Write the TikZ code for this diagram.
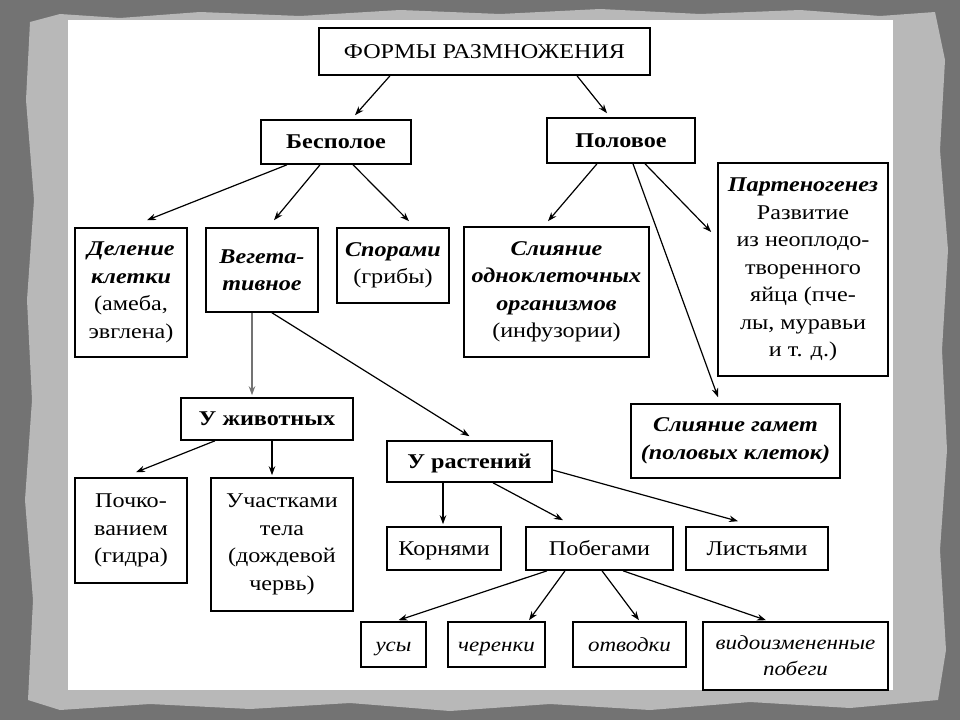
\documentclass[tikz,border=0pt]{standalone}
\usepackage{fontspec}
\setmainfont{Liberation Serif}[FakeStretch=1.15]
\usetikzlibrary{arrows.meta}
\newcommand\fsn{\fontsize{21}{27.5}\selectfont}
\newcommand\fss{\fontsize{20}{26}\selectfont}
\newcommand\bi[1]{\textbf{\textit{#1}}}
\tikzset{
  box/.style={draw, line width=1.6pt, fill=white, inner sep=0pt, align=center, font=\fsn},
  sbox/.style={box, font=\fss},
  one/.style={text height=16pt, text depth=3pt},
  arr/.style={line width=1.2pt, -{Stealth[length=9pt,width=6.5pt]}},
  garr/.style={arr, draw=black!55},
}
\begin{document}
\begin{tikzpicture}[x=1pt,y=-1pt]
\useasboundingbox (0,0) rectangle (960,720);
% background
\fill[black!55] (0,0) rectangle (960,720);
\fill[black!28] (30,22) -- (60,14) -- (120,18) -- (200,12) -- (300,16) -- (400,10) -- (500,14) -- (600,9) -- (700,14) -- (800,10) -- (880,16) -- (935,12) -- (945,60) -- (940,150) -- (948,250) -- (942,350) -- (947,450) -- (940,550) -- (946,650) -- (938,700) -- (850,708) -- (750,702) -- (650,710) -- (550,704) -- (450,711) -- (350,703) -- (250,709) -- (150,704) -- (60,710) -- (28,700) -- (33,600) -- (25,500) -- (32,400) -- (27,300) -- (34,200) -- (26,100) -- cycle;
\fill[white] (68,20) rectangle (893,690);

% nodes
\node[box, one, minimum width=331, minimum height=47] (title) at (484.5,51.5) {ФОРМЫ РАЗМНОЖЕНИЯ};
\node[box, one, minimum width=150, minimum height=44] (bes) at (336,142) {\textbf{Бесполое}};
\node[box, one, minimum width=148, minimum height=45] (pol) at (621,140.5) {\textbf{Половое}};
\node[box, minimum width=112, minimum height=129] (del) at (131,292.5) {\bi{Деление}\\\bi{клетки}\\(амеба,\\эвглена)};
\node[box, minimum width=112, minimum height=84] (veg) at (262,270) {\bi{Вегета-}\\\bi{тивное}};
\node[box, minimum width=112, minimum height=75] (spor) at (393,265.5) {\bi{Спорами}\\(грибы)};
\node[box, minimum width=185, minimum height=130] (sl) at (556.5,292) {\bi{Слияние}\\\bi{одноклеточных}\\\bi{организмов}\\(инфузории)};
\node[box, minimum width=170, minimum height=213] (part) at (803,269.5) {\bi{Партеногенез}\\Развитие\\из неоплодо-\\творенного\\яйца (пче-\\лы, муравьи\\и т. д.)};
\node[box, minimum width=209, minimum height=74] (gam) at (735.5,441) {\bi{Слияние гамет}\\\bi{(половых клеток)}};
\node[box, one, minimum width=172, minimum height=42] (zhiv) at (267,419) {\textbf{У животных}};
\node[box, one, minimum width=165, minimum height=41] (rast) at (469.5,461.5) {\textbf{У растений}};
\node[box, minimum width=112, minimum height=105] (poch) at (131,530.5) {Почко-\\ванием\\(гидра)};
\node[box, minimum width=142, minimum height=133] (uch) at (282,544.5) {Участками\\тела\\(дождевой\\червь)};
\node[box, one, minimum width=114, minimum height=43] (korn) at (444,548.5) {Корнями};
\node[box, one, minimum width=147, minimum height=43] (pob) at (599.5,548.5) {Побегами};
\node[box, one, minimum width=142, minimum height=43] (list) at (757,548.5) {Листьями};
\node[sbox, one, minimum width=65, minimum height=45] (usy) at (393.5,644.5) {\textit{усы}};
\node[sbox, one, minimum width=97, minimum height=45] (cher) at (496.5,644.5) {\textit{черенки}};
\node[sbox, one, minimum width=113, minimum height=45] (otv) at (629.5,644.5) {\textit{отводки}};
\node[sbox, minimum width=185, minimum height=68] (vid) at (795.5,656) {\textit{видоизмененные}\\\textit{побеги}};

% connectors
\draw[arr] ([xshift=-94.5pt]title.south) -- ([xshift=19pt,yshift=4pt]bes.north);
\draw[arr] ([xshift=92.5pt]title.south) -- ([xshift=-14pt,yshift=4pt]pol.north);
\draw[arr] ([xshift=-49pt]bes.south) -- ([xshift=16pt,yshift=7pt]del.north);
\draw[arr] ([xshift=-16pt]bes.south) -- ([xshift=12pt,yshift=7pt]veg.north);
\draw[arr] ([xshift=17pt]bes.south) -- ([xshift=16pt,yshift=6pt]spor.north);
\draw[arr] ([xshift=-24pt]pol.south) -- ([xshift=-8.5pt,yshift=5pt]sl.north);
\draw[arr] ([xshift=12pt]pol.south) -- ([xshift=-17.5pt,yshift=6pt]gam.north);
\draw[arr] ([xshift=24pt]pol.south) -- ([xshift=-6pt,yshift=37.5pt]part.west);
\draw[garr] ([xshift=-10pt]veg.south) -- ([xshift=-15pt,yshift=2pt]zhiv.north);
\draw[arr] ([xshift=10pt]veg.south) -- ([yshift=4pt]rast.north);
\draw[arr] ([xshift=-52pt]zhiv.south) -- ([xshift=5pt,yshift=5pt]poch.north);
\draw[arr] ([xshift=5pt]zhiv.south) -- ([xshift=-10pt,yshift=2pt]uch.north);
\draw[arr] ([xshift=-26.5pt]rast.south) -- ([xshift=-1pt,yshift=2pt]korn.north);
\draw[arr] ([xshift=23.5pt]rast.south) -- ([xshift=-36.5pt,yshift=6pt]pob.north);
\draw[arr] ([yshift=-8.5pt]rast.east) -- ([xshift=-19pt,yshift=5pt]list.north);
\draw[arr] ([xshift=-52.5pt]pob.south) -- ([xshift=5pt,yshift=1pt]usy.north);
\draw[arr] ([xshift=-34.5pt]pob.south) -- ([xshift=32.5pt,yshift=1pt]cher.north);
\draw[arr] ([xshift=2.5pt]pob.south) -- ([xshift=9.5pt,yshift=1pt]otv.north);
\draw[arr] ([xshift=23.5pt]pob.south) -- ([xshift=-29.5pt,yshift=1pt]vid.north);
\end{tikzpicture}
\end{document}
